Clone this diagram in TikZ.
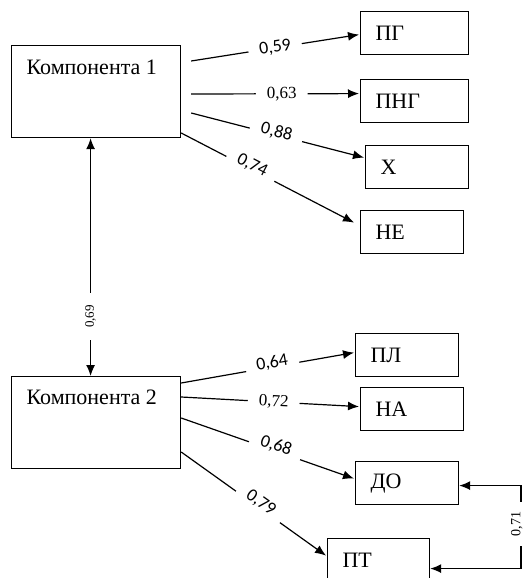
\documentclass[tikz,border=0pt]{standalone}
\usepackage{fontspec}
\setmainfont{Liberation Serif}
\newfontfamily\lblfont{Carlito}
\usetikzlibrary{arrows.meta,calc}
\begin{document}
\begin{tikzpicture}[x=1pt,y=-1pt,line width=1.2pt,
  bigbox/.style={draw,rectangle,minimum width=169pt,minimum height=92pt,anchor=north west,inner sep=0pt},
  maintext/.style={anchor=west,inner sep=0pt,font=\fontsize{22}{25}\selectfont},
  sbox/.style={draw,rectangle,minimum height=43pt,inner xsep=15pt,inner ysep=0pt,align=left,anchor=north west,text width=#1,font=\fontsize{22}{25}\selectfont},
  arr/.style={-{Latex[length=11pt,width=9pt]}},
  darr/.style={{Latex[length=11pt,width=9pt]}-{Latex[length=11pt,width=9pt]}},
  lbl/.style={sloped,fill=white,inner xsep=11pt,inner ysep=3pt,font=\lblfont\fontsize{18}{20}\selectfont},
  lblt/.style={sloped,fill=white,inner xsep=11pt,inner ysep=3pt,font=\fontsize{17}{20}\selectfont}]
\clip (0,0) rectangle (524,578);
% main boxes
\node[bigbox] (k1) at (11,45) {};
\node[maintext] (k1t) at (26,67) {Компонента 1};
\node[bigbox] (k2) at (11,376) {};
\node[maintext] (k2t) at (26,397) {Компонента 2};
% indicator boxes
\node[sbox=78pt] (pg) at (360,11) {ПГ};
\node[sbox=78pt] (png) at (360,79) {ПНГ};
\node[sbox=73pt] (x) at (365,145) {Х};
\node[sbox=73pt] (ne) at (360,210) {НЕ};
\node[sbox=73pt] (pl) at (355,333) {ПЛ};
\node[sbox=73pt] (na) at (360,387) {НА};
\node[sbox=73pt] (do) at (355,461) {ДО};
\node[sbox=72pt] (pt) at (327,538) {ПТ};
% component 1 loadings
\draw[arr] ($(k1.north east)+(10,16)$) -- node[lbl,pos=0.5]{0,59} ($(pg.west)+(-1,1.5)$);
\draw[arr] ($(k1.north east)+(10,49)$) -- node[lblt,pos=0.54]{0,63} ($(png.west)+(-1,-7.5)$);
\draw[arr] ($(k1.north east)+(10,68)$) -- node[lbl,pos=0.49,yshift=3pt]{0,88} ($(x.west)+(-1,-9.5)$);
\draw[arr] ($(k1.north east)+(0,88)$) -- node[lbl,pos=0.4,yshift=4pt]{0,74} ($(ne.west)+(-6,-9.5)$);
% correlation between components
\draw[darr] ($(k1.south)+(-5.5,0)$) -- node[pos=0.75,fill=white,rotate=90,inner xsep=12pt,inner ysep=3pt,font=\fontsize{13}{15}\selectfont]{0,69} ($(k2.north)+(-5.5,0)$);
% component 2 loadings
\draw[arr] ($(k2.north east)+(0,7)$) -- node[lbl,pos=0.53,yshift=4pt]{0,64} ($(pl.west)+(-1,-2.5)$);
\draw[arr] ($(k2.north east)+(0,21)$) -- node[lblt,pos=0.52]{0,72} ($(na.west)+(-1,-2.5)$);
\draw[arr] ($(k2.north east)+(0,42)$) -- node[lbl,pos=0.54,yshift=5pt]{0,68} ($(do.west)+(-1,-4.5)$);
\draw[arr] ($(k2.north east)+(0,76)$) -- node[lbl,pos=0.53,yshift=5pt]{0,79} ($(pt.west)+(-1,-4.5)$);
% correlation ДО -- ПТ
\draw[darr] ($(do.east)+(0,2.5)$) -- ++(61.7,0) |- node[pos=0.23,xshift=-4pt,rotate=90,fill=white,inner xsep=10pt,inner ysep=1pt,font=\fontsize{14}{16}\selectfont]{0,71} ($(pt.east)+(0,8.5)$);
\end{tikzpicture}
\end{document}
